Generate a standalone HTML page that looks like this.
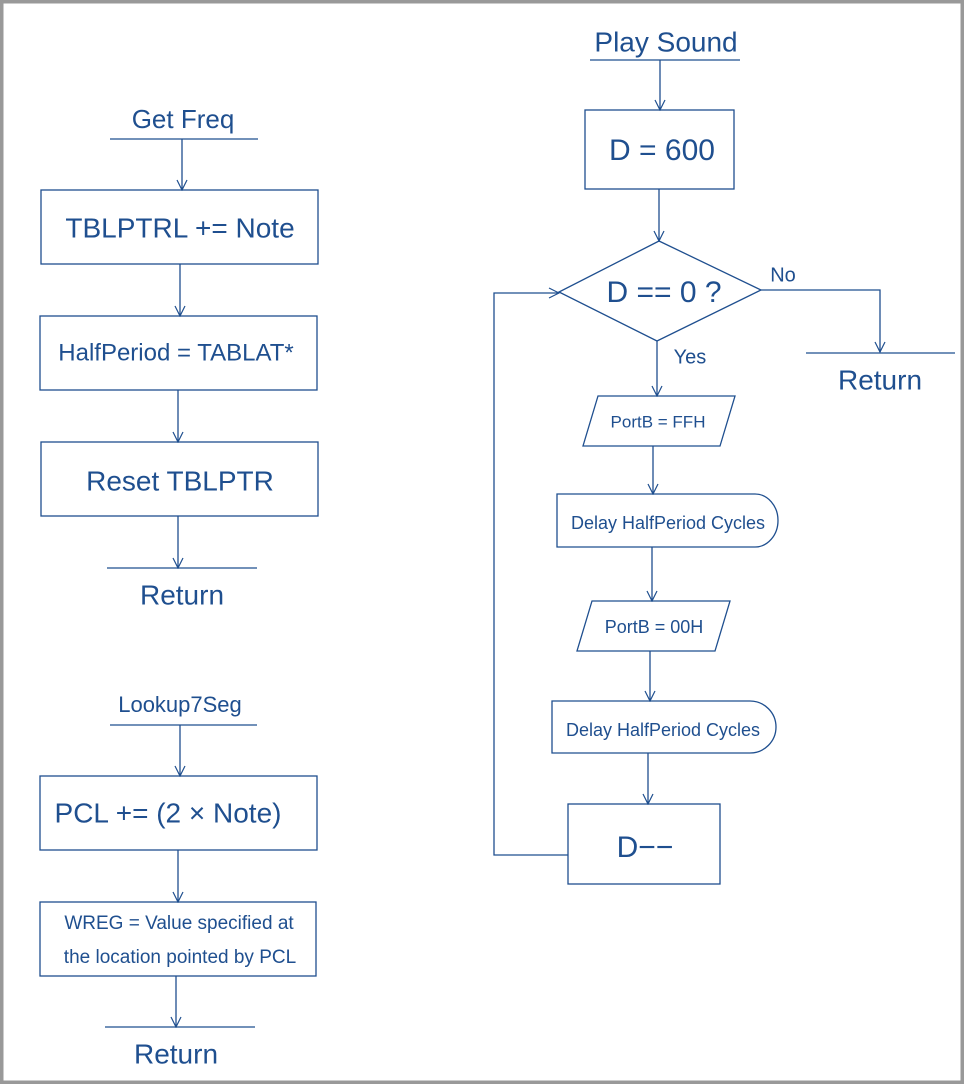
<!DOCTYPE html>
<html><head><meta charset="utf-8"><style>
html,body{margin:0;padding:0;background:#fff}
svg{display:block}
text{font-family:"Liberation Sans",sans-serif;fill:#1f4f8f;text-anchor:middle;dominant-baseline:middle}
</style></head><body>
<svg width="964" height="1084" viewBox="0 0 964 1084" xmlns="http://www.w3.org/2000/svg">
<rect x="1.5" y="1.5" width="961" height="1081" fill="#fff" stroke="#999" stroke-width="4"/>
<defs><marker id="a" viewBox="0 0 12 12" refX="11" refY="6" markerWidth="12" markerHeight="12" markerUnits="userSpaceOnUse" orient="auto"><path d="M1,1 L11,6 L1,11" fill="none" stroke="#1f4f8f" stroke-width="1.2"/></marker></defs>
<g stroke="#1f4f8f" stroke-width="1.3" fill="none">
<!-- left -->
<line x1="110" y1="139" x2="258" y2="139"/>
<line x1="182" y1="139" x2="182" y2="190" marker-end="url(#a)"/>
<rect x="41" y="190" width="277" height="74"/>
<line x1="180" y1="264" x2="180" y2="316" marker-end="url(#a)"/>
<rect x="40" y="316" width="277" height="74"/>
<line x1="178" y1="390" x2="178" y2="442" marker-end="url(#a)"/>
<rect x="41" y="442" width="277" height="74"/>
<line x1="178" y1="516" x2="178" y2="568" marker-end="url(#a)"/>
<line x1="107" y1="568" x2="257" y2="568"/>
<line x1="110" y1="725" x2="257" y2="725"/>
<line x1="180" y1="725" x2="180" y2="776" marker-end="url(#a)"/>
<rect x="40" y="776" width="277" height="74"/>
<line x1="178" y1="850" x2="178" y2="902" marker-end="url(#a)"/>
<rect x="40" y="902" width="276" height="74"/>
<line x1="176" y1="976" x2="176" y2="1027" marker-end="url(#a)"/>
<line x1="105" y1="1027" x2="255" y2="1027"/>
<!-- right -->
<line x1="590" y1="60" x2="740" y2="60"/>
<line x1="660" y1="60" x2="660" y2="110" marker-end="url(#a)"/>
<rect x="585" y="110" width="149" height="79"/>
<line x1="659" y1="189" x2="659" y2="241" marker-end="url(#a)"/>
<polygon points="659,241 761,290 657,341 559,292"/>
<polyline points="761,290 880,290 880,352" marker-end="url(#a)"/>
<line x1="806" y1="353" x2="955" y2="353"/>
<line x1="657" y1="341" x2="657" y2="396" marker-end="url(#a)"/>
<polygon points="598,396 735,396 720,446 583,446"/>
<line x1="653" y1="446" x2="653" y2="494" marker-end="url(#a)"/>
<path d="M557,494 H755 A23,26.5 0 0 1 755,547 H557 Z"/>
<line x1="652" y1="547" x2="652" y2="601" marker-end="url(#a)"/>
<polygon points="592,601 730,601 715,651 577,651"/>
<line x1="650" y1="651" x2="650" y2="701" marker-end="url(#a)"/>
<path d="M552,701 H750 A26,26 0 0 1 750,753 H552 Z"/>
<line x1="648" y1="753" x2="648" y2="804" marker-end="url(#a)"/>
<rect x="568" y="804" width="152" height="80"/>
<polyline points="568,855 494,855 494,293 559,293" marker-end="url(#a)"/>
</g>
<text x="183" y="121" font-size="26">Get Freq</text>
<text x="180" y="230" font-size="28">TBLPTRL += Note</text>
<text x="176" y="354" font-size="24">HalfPeriod = TABLAT*</text>
<text x="180" y="483" font-size="28">Reset TBLPTR</text>
<text x="182" y="597" font-size="28">Return</text>
<text x="180" y="706" font-size="22">Lookup7Seg</text>
<text x="168" y="815" font-size="28">PCL  += (2 × Note)</text>
<text x="179" y="924" font-size="19">WREG = Value specified at</text>
<text x="180" y="958" font-size="19">the location pointed by PCL</text>
<text x="176" y="1056" font-size="28">Return</text>
<text x="666" y="44" font-size="28">Play Sound</text>
<text x="662" y="152" font-size="30">D = 600</text>
<text x="664" y="294" font-size="30">D == 0 ?</text>
<text x="783" y="276" font-size="20">No</text>
<text x="690" y="358" font-size="20">Yes</text>
<text x="880" y="382" font-size="28">Return</text>
<text x="658" y="423" font-size="17">PortB = FFH</text>
<text x="668" y="524" font-size="18">Delay HalfPeriod Cycles</text>
<text x="654" y="628" font-size="18">PortB = 00H</text>
<text x="663" y="731" font-size="18">Delay HalfPeriod Cycles</text>
<text x="645" y="849" font-size="30">D−−</text>
</svg>
</body></html>
